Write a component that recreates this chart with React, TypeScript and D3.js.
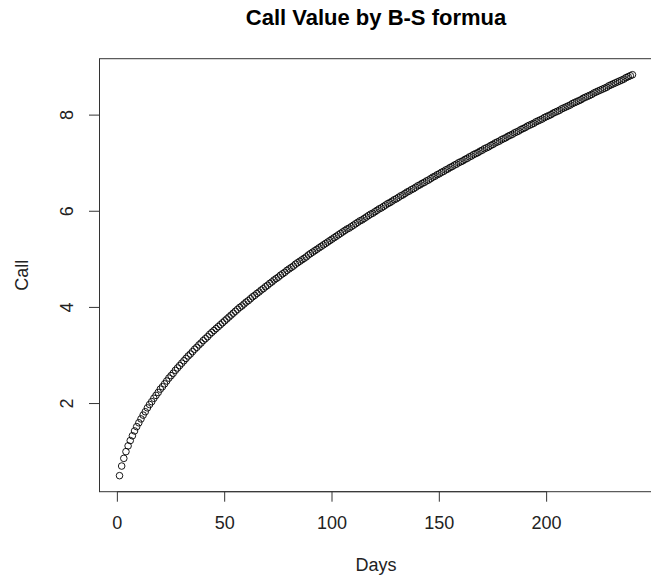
import * as d3 from "d3";
import { useMemo } from "react";

// call value per day
const callValue: number[] = [
  0.50, 0.70, 0.86, 1.00, 1.12, 1.23, 1.33, 1.43, 1.52, 1.60,
  1.68, 1.76, 1.83, 1.91, 1.98, 2.04, 2.11, 2.17, 2.23, 2.30,
  2.35, 2.41, 2.47, 2.53, 2.58, 2.63, 2.69, 2.74, 2.79, 2.84,
  2.89, 2.94, 2.99, 3.03, 3.08, 3.13, 3.17, 3.22, 3.26, 3.31,
  3.35, 3.39, 3.44, 3.48, 3.52, 3.56, 3.60, 3.64, 3.68, 3.72,
  3.76, 3.80, 3.84, 3.88, 3.92, 3.96, 4.00, 4.03, 4.07, 4.11,
  4.14, 4.18, 4.22, 4.25, 4.29, 4.32, 4.36, 4.39, 4.43, 4.46,
  4.50, 4.53, 4.57, 4.60, 4.63, 4.67, 4.70, 4.73, 4.77, 4.80,
  4.83, 4.86, 4.90, 4.93, 4.96, 4.99, 5.02, 5.05, 5.09, 5.12,
  5.15, 5.18, 5.21, 5.24, 5.27, 5.30, 5.33, 5.36, 5.39, 5.42,
  5.45, 5.48, 5.51, 5.54, 5.57, 5.60, 5.63, 5.65, 5.68, 5.71,
  5.74, 5.77, 5.80, 5.82, 5.85, 5.88, 5.91, 5.94, 5.96, 5.99,
  6.02, 6.05, 6.07, 6.10, 6.13, 6.16, 6.18, 6.21, 6.24, 6.26,
  6.29, 6.32, 6.34, 6.37, 6.40, 6.42, 6.45, 6.47, 6.50, 6.53,
  6.55, 6.58, 6.60, 6.63, 6.65, 6.68, 6.71, 6.73, 6.76, 6.78,
  6.81, 6.83, 6.86, 6.88, 6.91, 6.93, 6.96, 6.98, 7.01, 7.03,
  7.05, 7.08, 7.10, 7.13, 7.15, 7.18, 7.20, 7.22, 7.25, 7.27,
  7.30, 7.32, 7.34, 7.37, 7.39, 7.42, 7.44, 7.46, 7.49, 7.51,
  7.53, 7.56, 7.58, 7.60, 7.63, 7.65, 7.67, 7.70, 7.72, 7.74,
  7.77, 7.79, 7.81, 7.83, 7.86, 7.88, 7.90, 7.92, 7.95, 7.97,
  7.99, 8.01, 8.04, 8.06, 8.08, 8.10, 8.13, 8.15, 8.17, 8.19,
  8.21, 8.24, 8.26, 8.28, 8.30, 8.32, 8.35, 8.37, 8.39, 8.41,
  8.43, 8.46, 8.48, 8.50, 8.52, 8.54, 8.56, 8.58, 8.61, 8.63,
  8.65, 8.67, 8.69, 8.71, 8.73, 8.75, 8.78, 8.80, 8.82, 8.84,
];
const days: number[] = d3.range(1, callValue.length + 1);

const xTicks = [0, 50, 100, 150, 200];
const yTicks = [2, 4, 6, 8];

const title = "Call Value by B-S formua";
const xLabel = "Days";
const yLabel = "Call";

const width = 651;
const height = 575;
const margin = { left: 99, right: -2, top: 58.7, bottom: 83.3 };
const font = "'Liberation Sans', Arial, sans-serif";
const axisColor = "#333";

// R style 4% padding
function padded(ext: [number, number]): [number, number] {
  const r = ext[1] - ext[0];
  return [ext[0] - 0.04 * r, ext[1] + 0.04 * r];
}

export default function App() {
  const x = useMemo(
    () =>
      d3
        .scaleLinear()
        .domain(padded(d3.extent(days) as [number, number]))
        .range([margin.left, width - margin.right]),
    []
  );
  const y = useMemo(
    () =>
      d3
        .scaleLinear()
        .domain(padded(d3.extent(callValue) as [number, number]))
        .range([height - margin.bottom, margin.top]),
    []
  );

  const plotL = margin.left;
  const plotR = width - margin.right;
  const plotT = margin.top;
  const plotB = height - margin.bottom;
  const cx = (plotL + plotR) / 2;
  const cy = (plotT + plotB) / 2;

  return (
    <svg
      width={width}
      height={height}
      style={{ position: "absolute", left: 0, top: 0, background: "#fff" }}
    >
      <rect width={width} height={height} fill="#fff" />
      <text
        x={cx}
        y={25}
        textAnchor="middle"
        fontFamily={font}
        fontWeight="bold"
        fontSize={22}
      >
        {title}
      </text>

      {/* box */}
      <rect
        x={plotL + 0.5}
        y={plotT}
        width={plotR - plotL}
        height={plotB - plotT}
        fill="none"
        stroke={axisColor}
        strokeWidth={1}
      />

      {/* x axis */}
      <line
        x1={x(xTicks[0])}
        x2={x(xTicks[xTicks.length - 1])}
        y1={plotB}
        y2={plotB}
        stroke={axisColor}
      />
      {xTicks.map((t) => (
        <g key={t}>
          <line x1={x(t)} x2={x(t)} y1={plotB} y2={plotB + 10} stroke={axisColor} />
          <text
            x={x(t)}
            y={529}
            textAnchor="middle"
            fontFamily={font}
            fontSize={18}
            fill="#222"
          >
            {t}
          </text>
        </g>
      ))}
      <text x={cx} y={571} textAnchor="middle" fontFamily={font} fontSize={18} fill="#222">
        {xLabel}
      </text>

      {/* y axis */}
      <line
        x1={plotL + 0.5}
        x2={plotL + 0.5}
        y1={y(yTicks[0])}
        y2={y(yTicks[yTicks.length - 1])}
        stroke={axisColor}
      />
      {yTicks.map((t) => (
        <g key={t}>
          <line x1={plotL - 10} x2={plotL} y1={y(t)} y2={y(t)} stroke={axisColor} />
          <text
            transform={`translate(72.5, ${y(t)}) rotate(-90)`}
            textAnchor="middle"
            fontFamily={font}
            fontSize={18}
            fill="#222"
          >
            {t}
          </text>
        </g>
      ))}
      <text
        transform={`translate(28, ${cy}) rotate(-90)`}
        textAnchor="middle"
        fontFamily={font}
        fontSize={18}
        fill="#222"
      >
        {yLabel}
      </text>

      {/* points */}
      <g fill="none" stroke="#000" strokeWidth={0.9}>
        {days.map((d, i) => (
          <circle key={d} cx={x(d)} cy={y(callValue[i])} r={3.3} />
        ))}
      </g>
    </svg>
  );
}
